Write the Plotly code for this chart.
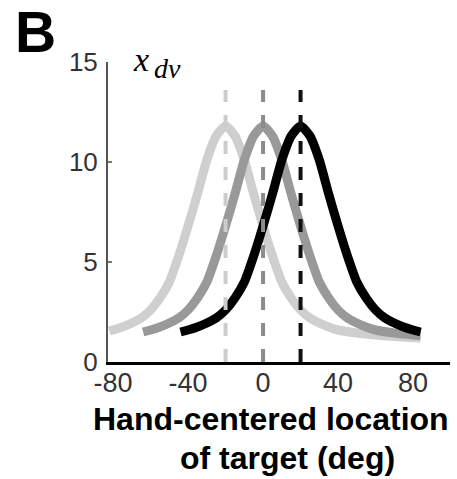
import plotly.graph_objects as go

# Data
x_light = [-82, -75, -70, -65, -60, -55, -50, -45, -40, -35, -30, -25, -20, -15, -10, -5, 0, 5, 10, 15, 20, 25, 30, 35, 40, 50, 60, 70, 84]
y_light = [1.55, 1.75, 1.95, 2.2, 2.6, 3.2, 4.0, 5.3, 6.8, 8.4, 10.1, 11.3, 11.8, 11.3, 10.1, 8.4, 6.8, 5.3, 4.0, 3.2, 2.6, 2.2, 1.95, 1.75, 1.6, 1.45, 1.35, 1.28, 1.2]

x_mid = [-64, -60, -55, -50, -45, -40, -35, -30, -25, -20, -15, -10, -5, 0, 5, 10, 15, 20, 25, 30, 35, 40, 45, 50, 55, 60, 70, 84]
y_mid = [1.5, 1.6, 1.75, 1.95, 2.2, 2.6, 3.2, 4.0, 5.3, 6.8, 8.4, 10.1, 11.3, 11.8, 11.3, 10.1, 8.4, 6.8, 5.3, 4.0, 3.2, 2.6, 2.2, 1.95, 1.75, 1.6, 1.45, 1.32]

x_dark = [-44, -40, -35, -30, -25, -20, -15, -10, -5, 0, 5, 10, 15, 20, 25, 30, 35, 40, 45, 50, 55, 60, 65, 70, 75, 80, 84]
y_dark = [1.5, 1.6, 1.75, 1.95, 2.2, 2.6, 3.2, 4.0, 5.3, 6.8, 8.4, 10.1, 11.3, 11.8, 11.3, 10.1, 8.4, 6.8, 5.3, 4.0, 3.2, 2.6, 2.2, 1.95, 1.75, 1.6, 1.5]

centers = [-20, 0, 20]
dash_top = 13.6

x_ticks = [-80, -40, 0, 40, 80]
y_ticks = [0, 5, 10, 15]

curve_colors = ["#cfcfcf", "#999999", "#000000"]
dash_colors = ["#cccccc", "#8c8c8c", "#111111"]

fig = go.Figure()
for xs, ys, c in zip([x_light, x_mid, x_dark], [y_light, y_mid, y_dark], curve_colors):
    fig.add_trace(go.Scatter(x=xs, y=ys, mode="lines",
                             line=dict(color=c, width=9, shape="spline", smoothing=0.6),
                             showlegend=False, hoverinfo="skip"))
for cx, c in zip(centers, dash_colors):
    fig.add_trace(go.Scatter(x=[cx, cx], y=[0, dash_top], mode="lines",
                             line=dict(color=c, width=4, dash="13px,13px"),
                             showlegend=False, hoverinfo="skip"))

W, H = 457, 479
L, R, T, B = 108, 7, 62, 117
pw, ph = W - L - R, H - T - B

def px(x):
    return (x - L) / pw

def py(y):
    return (H - B - y) / ph

fig.update_layout(
    width=W, height=H,
    margin=dict(l=L, r=R, t=T, b=B, autoexpand=False),
    plot_bgcolor="white", paper_bgcolor="white",
    font=dict(family="Liberation Sans, Arial", color="#222"),
    xaxis=dict(range=[-82.7, 99.7], tickvals=x_ticks, ticktext=[str(v) for v in x_ticks],
               showgrid=False, zeroline=False, showline=True, linecolor="#000", linewidth=3,
               ticks="", tickfont=dict(size=27, color="#333"), ticklabelstandoff=-5,
               fixedrange=True, automargin=False),
    yaxis=dict(range=[0, 15], tickvals=y_ticks, ticktext=[str(v) for v in y_ticks],
               showgrid=False, zeroline=False, showline=True, linecolor="#555", linewidth=2,
               ticks="inside", ticklen=4, tickcolor="#777", tickwidth=2,
               tickfont=dict(size=26, color="#333"), ticklabelstandoff=3,
               fixedrange=True, automargin=False),
    annotations=[
        dict(text="<b>B</b>", x=px(35), y=py(32), xref="paper", yref="paper",
             xanchor="center", yanchor="middle", showarrow=False,
             font=dict(size=57, color="#000", family="Liberation Sans, Arial")),
        dict(text="<i>x</i>", x=px(131), y=py(59), xref="paper", yref="paper",
             xanchor="left", yanchor="middle", showarrow=False,
             font=dict(size=34, color="#000", family="Liberation Serif, Times New Roman")),
        dict(text="<i>dv</i>", x=px(152), y=py(68), xref="paper", yref="paper",
             xanchor="left", yanchor="middle", showarrow=False,
             font=dict(size=28, color="#000", family="Liberation Serif, Times New Roman")),
        dict(text="<b>Hand-centered location</b>", x=px(271), y=py(419), xref="paper", yref="paper",
             xanchor="center", yanchor="middle", showarrow=False,
             font=dict(size=32, color="#000")),
        dict(text="<b>of target (deg)</b>", x=px(287), y=py(458), xref="paper", yref="paper",
             xanchor="center", yanchor="middle", showarrow=False,
             font=dict(size=32, color="#000")),
    ],
)

fig.write_html("out.html", config={"displayModeBar": False},
               post_script="document.body.style.margin='0';document.body.style.overflow='hidden';")
